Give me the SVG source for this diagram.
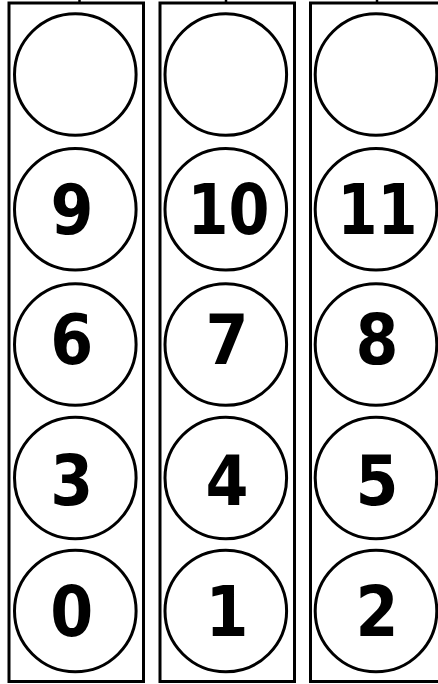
<svg xmlns="http://www.w3.org/2000/svg" width="438" height="684" viewBox="0 0 438 684">
<style>
.tube{fill:none;stroke:#000;stroke-width:3}
.node circle{fill:#fff;stroke:#000;stroke-width:3}
.node text{font-family:"DejaVu Sans","Liberation Sans",sans-serif;font-weight:bold;font-size:70px;fill:#000;text-anchor:middle}
.conn line{stroke:#000;stroke-width:2.5}
</style>
<rect width="438" height="684" fill="#fff"/>
<g id="tubes">
<rect id="tube0" class="tube" x="9" y="3" width="134.5" height="678.5"/>
<rect id="tube1" class="tube" x="160" y="3" width="134.5" height="678.5"/>
<rect id="tube2" class="tube" x="310.5" y="3" width="134.5" height="678.5"/>
</g>
<g id="connectors" class="conn">
<line x1="79.5" y1="0" x2="79.5" y2="4"/>
<line x1="226" y1="0" x2="226" y2="4"/>
<line x1="377" y1="0" x2="377" y2="4"/>
</g>
<g id="n_top0" class="node"><circle cx="75.3" cy="74.5" r="60.8"/></g>
<g id="n_top1" class="node"><circle cx="225.8" cy="74.5" r="60.8"/></g>
<g id="n_top2" class="node"><circle cx="376" cy="74.5" r="60.8"/></g>
<g id="n9" class="node"><circle cx="75.3" cy="209.3" r="60.8"/><text x="72" y="233.5" textLength="43" lengthAdjust="spacingAndGlyphs">9</text></g>
<g id="n10" class="node"><circle cx="225.8" cy="209.3" r="60.8"/><text x="228.5" y="233.5" textLength="82" lengthAdjust="spacingAndGlyphs">10</text></g>
<g id="n11" class="node"><circle cx="376" cy="209.3" r="60.8"/><text x="377.5" y="233.5" textLength="80" lengthAdjust="spacingAndGlyphs">11</text></g>
<g id="n6" class="node"><circle cx="75.3" cy="344.5" r="60.8"/><text x="71.8" y="363.5" textLength="43" lengthAdjust="spacingAndGlyphs">6</text></g>
<g id="n7" class="node"><circle cx="225.8" cy="344.5" r="60.8"/><text x="227" y="363.5" textLength="43" lengthAdjust="spacingAndGlyphs">7</text></g>
<g id="n8" class="node"><circle cx="376" cy="344.5" r="60.8"/><text x="377" y="363.5" textLength="43" lengthAdjust="spacingAndGlyphs">8</text></g>
<g id="n3" class="node"><circle cx="75.3" cy="478" r="60.8"/><text x="71.8" y="505" textLength="43" lengthAdjust="spacingAndGlyphs">3</text></g>
<g id="n4" class="node"><circle cx="225.8" cy="478" r="60.8"/><text x="227" y="505" textLength="43" lengthAdjust="spacingAndGlyphs">4</text></g>
<g id="n5" class="node"><circle cx="376" cy="478" r="60.8"/><text x="377" y="505" textLength="43" lengthAdjust="spacingAndGlyphs">5</text></g>
<g id="n0" class="node"><circle cx="75.3" cy="611" r="60.8"/><text x="71.8" y="636" textLength="43" lengthAdjust="spacingAndGlyphs">0</text></g>
<g id="n1" class="node"><circle cx="225.8" cy="611" r="60.8"/><text x="227" y="636" textLength="43" lengthAdjust="spacingAndGlyphs">1</text></g>
<g id="n2" class="node"><circle cx="376" cy="611" r="60.8"/><text x="377" y="636" textLength="43" lengthAdjust="spacingAndGlyphs">2</text></g>
</svg>
